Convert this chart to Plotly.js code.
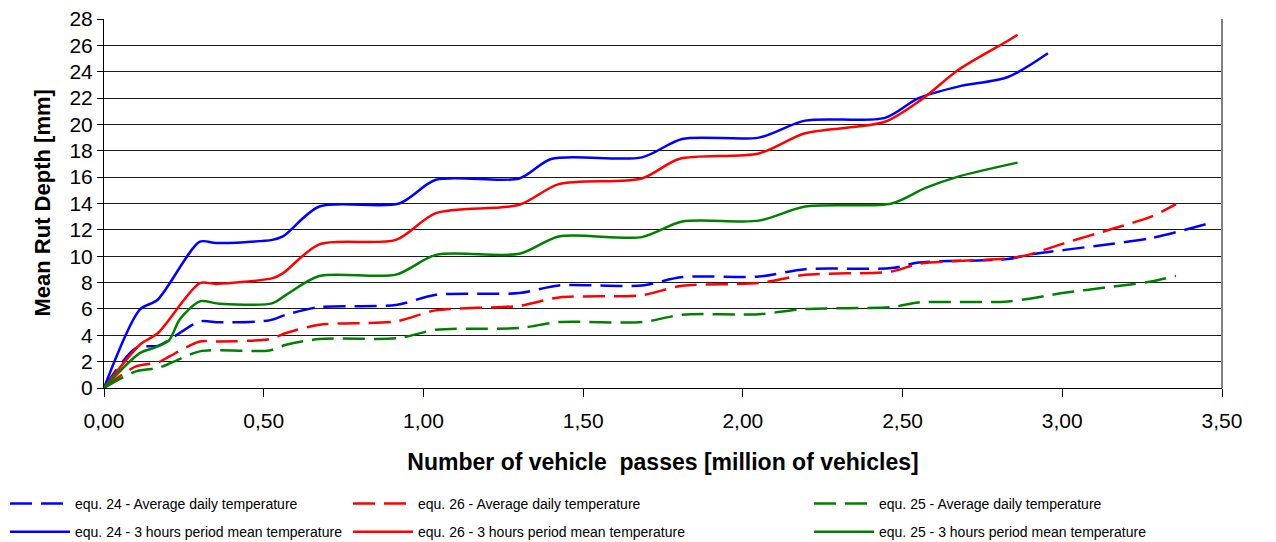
<!DOCTYPE html>
<html><head><meta charset="utf-8">
<script src="https://cdn.plot.ly/plotly-3.0.1.min.js"></script>
<style>body{margin:0;background:#fff}#chart{width:1276px;height:542px}</style>
</head><body><div id="chart"></div>
<script>
// equ. 24 - Average daily temperature (blue dashed)
const x24avg = [0, 0.10, 0.169, 0.205, 0.30, 0.362, 0.518, 0.57, 0.674, 0.914, 1.039, 1.30, 1.424, 1.684, 1.81, 2.05, 2.195, 2.466, 2.55, 2.83, 2.893, 3.11, 3.278, 3.46];
const y24avg = [0, 3.03, 3.2, 3.66, 5.05, 4.98, 5.13, 5.56, 6.14, 6.3, 7.07, 7.2, 7.78, 7.78, 8.42, 8.46, 9.02, 9.1, 9.52, 9.78, 10.1, 10.8, 11.37, 12.5];
// equ. 26 - Average daily temperature (red dashed)
const x26avg = [0, 0.10, 0.169, 0.205, 0.30, 0.362, 0.518, 0.57, 0.674, 0.914, 1.039, 1.30, 1.424, 1.684, 1.81, 2.05, 2.195, 2.466, 2.55, 2.83, 2.893, 3.0, 3.16, 3.278, 3.356];
const y26avg = [0, 1.64, 1.94, 2.4, 3.53, 3.53, 3.71, 4.17, 4.8, 5.05, 5.89, 6.24, 6.87, 7.05, 7.76, 7.96, 8.59, 8.84, 9.42, 9.83, 10.1, 10.94, 12.1, 13.0, 13.95];
// equ. 25 - Average daily temperature (green dashed)
const x25avg = [0, 0.10, 0.169, 0.21, 0.30, 0.518, 0.57, 0.674, 0.924, 1.039, 1.30, 1.424, 1.684, 1.81, 2.05, 2.195, 2.466, 2.55, 2.83, 3.0, 3.16, 3.278, 3.356];
const y25avg = [0, 1.26, 1.52, 1.9, 2.78, 2.85, 3.28, 3.71, 3.79, 4.42, 4.55, 5.0, 5.0, 5.56, 5.6, 5.99, 6.14, 6.49, 6.57, 7.2, 7.7, 8.08, 8.51];
// equ. 24 - 3 hours period mean temperature (blue solid)
const x24h3 = [0, 0.112, 0.168, 0.30, 0.351, 0.527, 0.56, 0.674, 0.924, 1.039, 1.30, 1.40, 1.684, 1.81, 2.05, 2.195, 2.445, 2.55, 2.674, 2.83, 2.955];
const y24h3 = [0, 5.94, 6.7, 11.1, 11.0, 11.24, 11.5, 13.77, 14.0, 15.8, 15.9, 17.38, 17.5, 18.9, 19.0, 20.29, 20.5, 22.0, 22.87, 23.6, 25.4];
// equ. 26 - 3 hours period mean temperature (red solid)
const x26h3 = [0, 0.113, 0.169, 0.30, 0.351, 0.528, 0.56, 0.674, 0.914, 1.039, 1.30, 1.424, 1.684, 1.80, 2.05, 2.195, 2.445, 2.56, 2.674, 2.83, 2.86];
const y26h3 = [0, 3.3, 4.17, 7.96, 7.9, 8.34, 8.7, 10.9, 11.24, 13.27, 13.9, 15.47, 15.9, 17.38, 17.8, 19.33, 20.2, 21.9, 24.13, 26.35, 26.8];
// equ. 25 - 3 hours period mean temperature (green solid)
const x25h3 = [0, 0.112, 0.169, 0.205, 0.237, 0.30, 0.362, 0.528, 0.57, 0.674, 0.914, 1.039, 1.30, 1.424, 1.684, 1.81, 2.05, 2.195, 2.466, 2.57, 2.674, 2.86];
const y25h3 = [0, 2.65, 3.15, 3.66, 5.2, 6.57, 6.39, 6.44, 7.07, 8.5, 8.6, 10.1, 10.18, 11.5, 11.45, 12.63, 12.7, 13.77, 14.0, 15.16, 16.04, 17.1];

const names = [
  'equ. 24 - Average daily temperature',
  'equ. 24 - 3 hours period mean temperature',
  'equ. 26 - Average daily temperature',
  'equ. 26 - 3 hours period mean temperature',
  'equ. 25 - Average daily temperature',
  'equ. 25 - 3 hours period mean temperature'
];
const yTitle = 'Mean Rut Depth [mm]';
const xTitle = 'Number of vehicle\u00a0 passes [million of vehicles]';

const BLUE = '#0000ff', RED = '#ff0000', GREEN = '#008000';
const DASH = '22px,9px';

function tr(x, y, name, color, dash, legend, group) {
  return {
    type: 'scatter', mode: 'lines', x: x, y: y, name: name,
    legend: legend, legendgroup: group,
    line: {color: color, width: 2.5, dash: dash, shape: 'spline', smoothing: 0.8},
    hoverinfo: 'x+y+name'
  };
}

const data = [
  tr(x24avg, y24avg, names[0], BLUE, DASH, 'legend', 'a'),
  tr(x24h3, y24h3, names[1], BLUE, 'solid', 'legend', 'b'),
  tr(x26avg, y26avg, names[2], RED, DASH, 'legend2', 'c'),
  tr(x26h3, y26h3, names[3], RED, 'solid', 'legend2', 'd'),
  tr(x25avg, y25avg, names[4], GREEN, DASH, 'legend3', 'e'),
  tr(x25h3, y25h3, names[5], GREEN, 'solid', 'legend3', 'f')
];

function leg(px) {
  return {
    x: px / 1276, xref: 'container', xanchor: 'left',
    y: (542 - 488) / 542, yref: 'container', yanchor: 'top',
    orientation: 'v', traceorder: 'grouped', tracegroupgap: 7,
    font: {size: 14, color: '#000'}, bgcolor: 'rgba(0,0,0,0)', itemwidth: 60
  };
}

const layout = {
  width: 1276, height: 542,
  margin: {l: 104, r: 54, t: 19, b: 154, autoexpand: false},
  paper_bgcolor: '#fff', plot_bgcolor: '#fff',
  separators: ', ',
  font: {family: '"Liberation Sans", Arial, sans-serif', color: '#000'},
  xaxis: {
    range: [0, 3.5], tick0: 0, dtick: 0.5, tickformat: '.2f',
    ticks: 'outside', ticklen: 8, tickcolor: '#000', tickwidth: 1,
    ticklabelstandoff: 6,
    showline: true, linecolor: '#000', linewidth: 1,
    showgrid: false, zeroline: false,
    tickfont: {size: 21},
    title: {text: xTitle, font: {size: 23, weight: 'bold'}, standoff: 22}
  },
  yaxis: {
    range: [0, 28], tick0: 0, dtick: 2,
    ticks: 'outside', ticklen: 6, tickcolor: '#000', tickwidth: 1,
    showline: true, linecolor: '#000', linewidth: 1,
    showgrid: true, gridcolor: '#1a1a1a', gridwidth: 1, zeroline: false,
    tickfont: {size: 21}
  },
  annotations: [{
    text: yTitle, textangle: -90, showarrow: false,
    xref: 'paper', yref: 'paper', x: -62 / 1118, y: 0.5,
    xanchor: 'center', yanchor: 'middle',
    font: {size: 22, weight: 'bold', color: '#000'}
  }],
  shapes: [{type: 'line', xref: 'paper', yref: 'paper', x0: 1, x1: 1, y0: 0, y1: 1, line: {color: '#808080', width: 2}}],
  showlegend: true,
  legend: leg(5),
  legend2: leg(348),
  legend3: leg(809)
};

Plotly.newPlot('chart', data, layout, {displayModeBar: false, responsive: false});
</script>
</body></html>
